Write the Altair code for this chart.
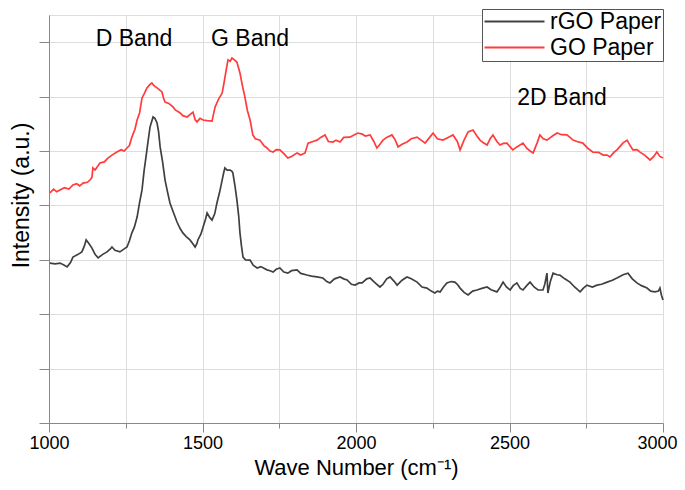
import altair as alt
import pandas as pd

# ---- data ----
go_wn = [1003, 1015, 1025, 1036, 1050, 1065, 1078, 1090, 1100, 1111, 1125, 1135, 1140, 1143, 1150,
         1166, 1180, 1192, 1205, 1221, 1235, 1245, 1254, 1262, 1270, 1280, 1287, 1295, 1303, 1310,
         1319, 1329, 1335, 1342, 1352, 1360, 1368, 1373, 1378, 1390, 1404, 1412, 1420, 1427, 1436,
         1450, 1460, 1469, 1476, 1482, 1492, 1502, 1515, 1531, 1541, 1552, 1564, 1570, 1576, 1583,
         1590, 1596, 1604, 1612, 1622, 1630, 1638, 1646, 1655, 1664, 1672, 1687, 1700, 1710, 1720,
         1730, 1740, 1752, 1765, 1778, 1790, 1808, 1820, 1834, 1844, 1860, 1873, 1885, 1899, 1910,
         1925, 1935, 1948, 1960, 1980, 1995, 2006, 2020, 2030, 2046, 2058, 2068, 2078, 2088, 2100,
         2117, 2128, 2137, 2150, 2166, 2180, 2199, 2212, 2225, 2240, 2251, 2265, 2283, 2300, 2316,
         2330, 2339, 2352, 2365, 2381, 2394, 2404, 2415, 2427, 2437, 2446, 2459, 2469, 2480, 2492,
         2502, 2511, 2524, 2544, 2556, 2567, 2577, 2590, 2599, 2610, 2622, 2640, 2655, 2670, 2687,
         2697, 2707, 2720, 2739, 2755, 2772, 2790, 2805, 2818, 2827, 2840, 2850, 2870, 2883, 2893,
         2902, 2915, 2925, 2940, 2958, 2970, 2980, 2990, 3000]
go_int = [8.46, 8.60, 8.50, 8.57, 8.65, 8.60, 8.75, 8.80, 8.72, 8.82, 8.85, 8.95, 9.04, 9.38, 9.30,
          9.56, 9.60, 9.74, 9.85, 9.96, 10.05, 10.00, 10.11, 10.20, 10.51, 10.80, 11.14, 11.40, 11.95, 12.10,
          12.32, 12.45, 12.50, 12.40, 12.32, 12.25, 12.17, 11.95, 11.80, 11.75, 11.62, 11.50, 11.45, 11.40, 11.30,
          11.25, 11.35, 11.43, 11.15, 11.07, 11.20, 11.14, 11.12, 11.10, 11.62, 11.90, 12.13, 12.50, 12.90, 13.35,
          13.30, 13.42, 13.35, 13.27, 12.87, 12.40, 11.99, 11.50, 11.14, 10.59, 10.45, 10.40, 10.20, 10.11, 10.00,
          9.96, 10.05, 10.04, 9.90, 9.74, 9.80, 9.93, 9.85, 9.93, 10.29, 10.35, 10.40, 10.50, 10.59, 10.35,
          10.33, 10.40, 10.33, 10.50, 10.51, 10.60, 10.66, 10.62, 10.55, 10.59, 10.35, 10.11, 10.25, 10.40, 10.50,
          10.59, 10.40, 10.15, 10.25, 10.33, 10.45, 10.51, 10.40, 10.29, 10.50, 10.66, 10.45, 10.40, 10.50, 10.59,
          10.35, 10.04, 10.40, 10.70, 10.77, 10.55, 10.40, 10.30, 10.22, 10.45, 10.59, 10.35, 10.22, 10.28, 10.29,
          10.15, 10.04, 10.15, 10.29, 10.10, 10.00, 9.93, 10.30, 10.59, 10.45, 10.40, 10.55, 10.66, 10.60, 10.59,
          10.50, 10.40, 10.35, 10.29, 10.10, 9.96, 9.95, 9.85, 9.85, 9.78, 9.95, 10.04, 10.30, 10.40, 10.20,
          10.04, 10.05, 9.96, 9.85, 9.67, 9.80, 9.96, 9.80, 9.74]

rgo_wn = [1003, 1020, 1036, 1050, 1059, 1070, 1078, 1095, 1107, 1115, 1121, 1130, 1140, 1150, 1160,
          1175, 1189, 1200, 1205, 1215, 1231, 1245, 1254, 1262, 1270, 1278, 1287, 1295, 1303, 1310,
          1316, 1322, 1329, 1335, 1339, 1345, 1352, 1357, 1362, 1370, 1378, 1386, 1394, 1405, 1417,
          1427, 1436, 1447, 1459, 1468, 1476, 1482, 1485, 1495, 1502, 1510, 1515, 1524, 1531, 1540,
          1547, 1556, 1564, 1569, 1573, 1580, 1590, 1596, 1599, 1606, 1612, 1618, 1622, 1627, 1632,
          1640, 1655, 1665, 1678, 1690, 1710, 1720, 1730, 1740, 1752, 1765, 1778, 1790, 1808, 1820,
          1840, 1855, 1873, 1892, 1905, 1915, 1930, 1948, 1960, 1971, 1985, 1997, 2010, 2020, 2035,
          2046, 2058, 2068, 2078, 2088, 2100, 2111, 2125, 2134, 2150, 2166, 2180, 2199, 2215, 2231,
          2245, 2257, 2265, 2274, 2285, 2296, 2310, 2322, 2330, 2339, 2352, 2365, 2380, 2394, 2410,
          2427, 2440, 2459, 2470, 2479, 2490, 2502, 2512, 2524, 2535, 2544, 2556, 2567, 2580, 2593,
          2609, 2615, 2622, 2625, 2633, 2642, 2655, 2664, 2680, 2697, 2712, 2730, 2740, 2752, 2770,
          2785, 2800, 2818, 2835, 2850, 2870, 2886, 2900, 2915, 2930, 2948, 2960, 2974, 2985, 2990,
          2995, 3000]
rgo_int = [5.88, 5.85, 5.88, 5.80, 5.74, 5.90, 6.10, 6.20, 6.29, 6.50, 6.73, 6.60, 6.43, 6.20, 6.07,
           6.20, 6.29, 6.40, 6.47, 6.35, 6.29, 6.40, 6.47, 6.70, 6.99, 7.20, 7.57, 8.10, 8.57, 9.30,
           9.78, 10.30, 10.88, 11.10, 11.25, 11.20, 11.03, 10.70, 10.15, 9.60, 8.93, 8.50, 8.09, 7.75, 7.39,
           7.15, 6.99, 6.85, 6.73, 6.60, 6.47, 6.60, 6.73, 6.95, 7.21, 7.50, 7.72, 7.55, 7.46, 7.70,
           8.09, 8.50, 8.93, 9.20, 9.38, 9.30, 9.30, 9.25, 9.19, 8.70, 8.20, 7.60, 6.99, 6.50, 6.10,
           6.00, 5.99, 5.80, 5.70, 5.75, 5.63, 5.60, 5.55, 5.65, 5.70, 5.55, 5.51, 5.60, 5.63, 5.50,
           5.44, 5.40, 5.37, 5.33, 5.20, 5.15, 5.30, 5.37, 5.30, 5.26, 5.10, 5.07, 5.15, 5.15, 5.30,
           5.33, 5.20, 5.10, 5.00, 5.10, 5.30, 5.37, 5.20, 5.07, 5.25, 5.37, 5.30, 5.18, 5.00, 4.96,
           4.85, 4.78, 4.85, 4.82, 5.00, 5.15, 5.20, 5.18, 5.10, 4.96, 4.80, 4.71, 4.85, 4.89, 4.95,
           5.00, 4.90, 4.82, 5.00, 5.18, 5.00, 4.89, 5.05, 5.15, 4.95, 4.89, 5.05, 5.18, 5.00, 4.89,
           4.89, 5.10, 5.51, 4.78, 5.20, 5.51, 5.45, 5.44, 5.30, 5.18, 5.00, 4.82, 4.95, 5.07, 5.00,
           5.07, 5.10, 5.18, 5.25, 5.33, 5.45, 5.51, 5.30, 5.15, 5.05, 4.96, 4.85, 4.82, 4.85, 4.96,
           4.70, 4.52]

series_names = ["rGO Paper", "GO Paper"]
series_colors = ["#404040", "#ff3b3b"]

band_labels = ["D Band", "G Band", "2D Band"]
band_wn = [1277, 1655, 2671]
band_int = [14.1, 14.1, 11.95]

x_ticks = [1000, 1250, 1500, 1750, 2000, 2250, 2500, 2750, 3000]
y_ticks = list(range(16))

# ---- tables ----
df = pd.concat([
    pd.DataFrame({"wn": rgo_wn, "inten": rgo_int, "series": series_names[0]}),
    pd.DataFrame({"wn": go_wn, "inten": go_int, "series": series_names[1]}),
], ignore_index=True)
bands = pd.DataFrame({"wn": band_wn, "inten": band_int, "label": band_labels})

FONT = "Liberation Sans"

x_enc = alt.X("wn:Q",
              scale=alt.Scale(domain=[1000, 3000], nice=False, zero=False),
              axis=alt.Axis(values=x_ticks, title="Wave Number (cm⁻¹)",
                            labelExpr="datum.value % 500 === 0 ? datum.label : ''",
                            format="d", labelFlush=False, labelFontSize=18,
                            labelPadding=2, titleFontSize=22, titlePadding=5,
                            titleFontWeight="normal",
                            labelOffset={"condition": {"test": "datum.value === 3000", "value": -6}, "value": 0},
                            tickSize={"condition": {"test": "datum.value % 500 === 0", "value": 9}, "value": 5}))
y_enc = alt.Y("inten:Q",
              scale=alt.Scale(domain=[0, 15], nice=False, zero=False),
              axis=alt.Axis(values=y_ticks, labels=False, title="Intensity (a.u.)",
                            titleFontSize=23, titleFontWeight="normal",
                            titleX=-28, titleY=180, titleAlign="center", titleBaseline="middle",
                            titleAngle=270,
                            tickSize={"condition": {"test": "datum.value % 2 === 0", "value": 10}, "value": 6}))

lines = alt.Chart(df).mark_line(strokeWidth=1.7).encode(
    x=x_enc,
    y=y_enc,
    color=alt.Color("series:N",
                    scale=alt.Scale(domain=series_names, range=series_colors),
                    sort=series_names,
                    legend=alt.Legend(title=None, orient="none", legendX=433, legendY=-6,
                                      direction="vertical", symbolType="M-1,0H5",
                                      symbolSize=400, symbolStrokeWidth=2,
                                      labelFontSize=23, labelFont=FONT, labelColor="black",
                                      labelOffset=44, strokeColor="#555555", fillColor="white",
                                      padding=1, rowPadding=2, labelLimit=300)),
    detail="series:N",
)

texts = alt.Chart(bands).mark_text(font=FONT, fontSize=23, color="black",
                                   align="center", baseline="middle").encode(
    x="wn:Q", y="inten:Q", text="label:N")

chart = alt.layer(lines, texts).properties(
    width=614, height=408,
    autosize=alt.AutoSizeParams(type="none"),
    padding={"left": 41, "top": 7, "right": 14, "bottom": 58},
).configure_view(stroke=None).configure_axis(
    grid=False, domainColor="black", domainWidth=1.5, tickColor="black", tickWidth=1.5,
    labelFont=FONT, titleFont=FONT, labelColor="black", titleColor="black",
).configure(background="white")

chart.save("out.html", embed_options={"renderer": "svg", "actions": False})
